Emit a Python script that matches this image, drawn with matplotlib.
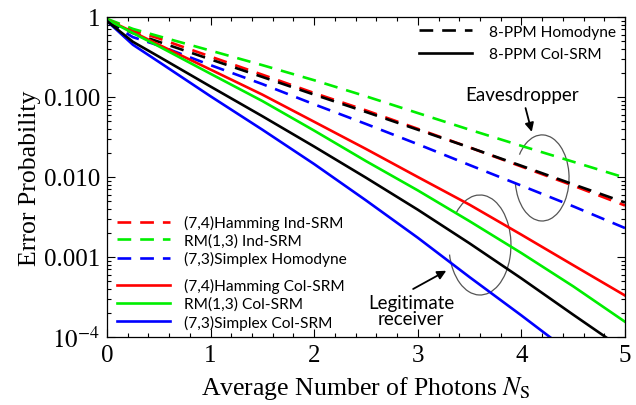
import numpy as np
import matplotlib
matplotlib.use("Agg")
import matplotlib.pyplot as plt
from matplotlib.patches import Arc
from matplotlib.ticker import FixedLocator, FixedFormatter, LogLocator, MultipleLocator

# average photon number
n_photons = [0, 0.25, 0.5, 1, 1.5, 2, 2.5, 3, 3.5, 4, 4.5, 5]

# error probabilities
hamming_ind = [0.93, 0.68, 0.54, 0.32, 0.19, 0.112, 0.068, 0.040, 0.0234, 0.0135, 0.0078, 0.0044]
rm_ind = [0.95, 0.71, 0.575, 0.38, 0.25, 0.162, 0.102, 0.063, 0.039, 0.0245, 0.0155, 0.0098]
simplex_hom = [0.875, 0.56, 0.44, 0.25, 0.145, 0.081, 0.046, 0.0257, 0.0141, 0.0078, 0.0043, 0.0023]
ppm_hom = [0.875, 0.63, 0.49, 0.295, 0.178, 0.107, 0.065, 0.039, 0.0234, 0.0138, 0.0081, 0.0048]

hamming_col = [0.93, 0.65, 0.45, 0.22, 0.107, 0.049, 0.0224, 0.0100, 0.0045, 0.0019, 7.9e-4, 3.3e-4]
rm_col = [0.93, 0.63, 0.43, 0.195, 0.089, 0.038, 0.0158, 0.0068, 0.0028, 0.00112, 4.3e-4, 1.55e-4]
simplex_col = [0.89, 0.45, 0.275, 0.102, 0.039, 0.0145, 0.0051, 0.00174, 5.6e-4, 1.86e-4, 6.0e-5, 1.95e-5]
ppm_col = [0.89, 0.49, 0.32, 0.135, 0.0575, 0.024, 0.0098, 0.0039, 0.00148, 5.4e-4, 1.9e-4, 6.8e-5]

ytick_vals = [1e-4, 1e-3, 1e-2, 1e-1, 1]
ytick_labels = [r"$10^{-4}$", "0.001", "0.010", "0.100", "1"]

RED, GREEN, BLUE = "#ff0000", "#00ee00", "#0000ff"
serif = "Liberation Serif"
sans = "Lato"
plt.rcParams["mathtext.fontset"] = "stix"
lw = 1.9
dash = (5.2, 3.4)

fig = plt.figure(figsize=(6.36, 4.06), dpi=100)
ax = fig.add_axes([0.1682, 0.1675, 0.8145, 0.7882])

# eavesdropper curves (dashed)
d1, = ax.plot(n_photons, hamming_ind, color=RED, lw=lw, dashes=dash)
d2, = ax.plot(n_photons, rm_ind, color=GREEN, lw=lw, dashes=dash)
d3, = ax.plot(n_photons, simplex_hom, color=BLUE, lw=lw, dashes=dash)
d4, = ax.plot(n_photons, ppm_hom, color="black", lw=lw, dashes=dash)
# legitimate receiver curves (solid)
s1, = ax.plot(n_photons, hamming_col, color=RED, lw=lw)
s2, = ax.plot(n_photons, rm_col, color=GREEN, lw=lw)
s3, = ax.plot(n_photons, simplex_col, color=BLUE, lw=lw)
s4, = ax.plot(n_photons, ppm_col, color="black", lw=lw)

ax.set_yscale("log")
ax.set_xlim(0, 5)
ax.set_ylim(1e-4, 1)
ax.yaxis.set_major_locator(FixedLocator(ytick_vals))
ax.yaxis.set_major_formatter(FixedFormatter(ytick_labels))
ax.yaxis.set_minor_locator(LogLocator(base=10, subs=np.arange(2, 10)))
ax.yaxis.set_minor_formatter(plt.NullFormatter())
ax.xaxis.set_major_locator(MultipleLocator(1))
ax.xaxis.set_minor_locator(MultipleLocator(0.2))
ax.tick_params(which="both", direction="in", top=True, right=True, width=0.8)
ax.tick_params(which="major", length=6, labelsize=18, pad=5)
ax.tick_params(which="minor", length=3)
for lab in ax.get_xticklabels() + ax.get_yticklabels():
    lab.set_fontfamily(serif)
for sp in ax.spines.values():
    sp.set_linewidth(0.9)

ax.set_xlabel(r"Average Number of Photons $N_\mathrm{S}$", fontsize=18.5, family=serif, labelpad=6)
ax.set_ylabel("Error Probability", fontsize=18.5, family=serif, labelpad=2)

# legends
leg_kw = dict(frameon=False, prop={"family": sans, "size": 11.2}, borderaxespad=0, borderpad=0)
leg1 = ax.legend([d4, s4], ["8-PPM Homodyne", "8-PPM Col-SRM"], loc="center left",
                 bbox_to_anchor=(0.602, 0.919), handlelength=3.4, handletextpad=1.1,
                 labelspacing=0.52, **leg_kw)
ax.add_artist(leg1)
leg2 = ax.legend([d1, d2, d3], ["(7,4)Hamming Ind-SRM", "RM(1,3) Ind-SRM", "(7,3)Simplex Homodyne"],
                 loc="center left", bbox_to_anchor=(0.019, 0.301), handlelength=3.4,
                 handletextpad=0.95, labelspacing=0.22, **leg_kw)
ax.add_artist(leg2)
ax.legend([s1, s2, s3], ["(7,4)Hamming Col-SRM", "RM(1,3) Col-SRM", "(7,3)Simplex Col-SRM"],
          loc="center left", bbox_to_anchor=(0.019, 0.103), handlelength=3.4,
          handletextpad=0.95, labelspacing=0.22, **leg_kw)

# annotations
ax.add_patch(Arc((0.840, 0.497), 0.104, 0.269, theta1=-161, theta2=121,
                 transform=ax.transAxes, color="#555555", lw=0.9))
ax.add_patch(Arc((0.720, 0.2875), 0.1197, 0.3125, theta1=-153, theta2=114,
                 transform=ax.transAxes, color="#555555", lw=0.9))
ax.annotate("Eavesdropper", xy=(0.820, 0.641), xytext=(0.801, 0.759),
            xycoords="axes fraction", textcoords="axes fraction", ha="center", va="center",
            family=sans, fontsize=13.5,
            arrowprops=dict(arrowstyle="-|>", color="black", lw=1.3, mutation_scale=13,
                            shrinkA=2, shrinkB=0))
ax.annotate("", xy=(0.655, 0.207), xytext=(0.591, 0.150),
            xycoords="axes fraction", textcoords="axes fraction",
            arrowprops=dict(arrowstyle="-|>", color="black", lw=1.3, mutation_scale=13,
                            shrinkA=0, shrinkB=0))
ax.text(0.587, 0.083, "Legitimate\nreceiver", transform=ax.transAxes, ha="center", va="center",
        family=sans, fontsize=13.5, linespacing=0.9)

fig.savefig("out.png", dpi=100)
